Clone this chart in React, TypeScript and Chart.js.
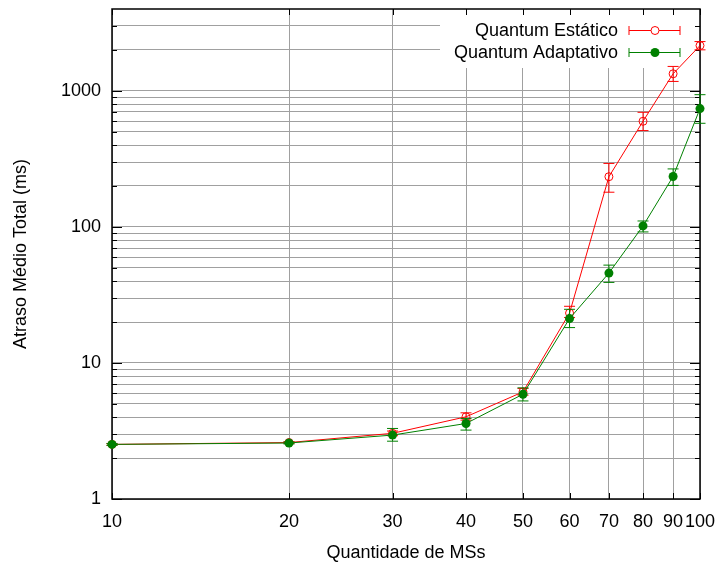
import React, { useEffect, useRef } from "react";
import { Chart, registerables } from "chart.js";

Chart.register(...registerables);

// ---- data ----
const msCounts = [10, 20, 30, 40, 50, 60, 70, 80, 90, 100];

const estaticoMean = [2.52, 2.6, 3.04, 4.02, 6.13, 23.3, 234, 598, 1336, 2154];
const estaticoLow = [2.48, 2.56, 2.92, 3.8, 5.8, 21.6, 180, 511, 1174, 2004];
const estaticoHigh = [2.56, 2.64, 3.16, 4.3, 6.5, 26.1, 293, 696, 1513, 2305];

const adaptativoMean = [2.52, 2.58, 2.95, 3.59, 5.89, 21.2, 45.8, 101.7, 235, 741];
const adaptativoLow = [2.48, 2.54, 2.66, 3.21, 5.26, 18.2, 39.1, 91.9, 202, 578];
const adaptativoHigh = [2.56, 2.62, 3.3, 3.91, 6.56, 24.8, 52.4, 110.6, 267, 938];

const xTickValues = [10, 20, 30, 40, 50, 60, 70, 80, 90, 100];
const yDecades = [1, 10, 100, 1000];
const yMantissas = [1, 2, 3, 4, 5, 6, 7, 8, 9];
const yMin = 1;
const yMax = 4000;

const seriesLabels = ["Quantum Estático", "Quantum Adaptativo"];
const xTitle = "Quantidade de MSs";
const yTitle = "Atraso Médio Total (ms)";

// ---- styles ----
const FONT = '"Liberation Sans", Arial, Helvetica, sans-serif';
const FONT_SIZE = 18;
const RED = "#ff0000";
const GREEN = "#008000";
const GRID = "#a0a0a0";

const yTickValues: number[] = [];
yDecades.forEach((d) =>
  yMantissas.forEach((m) => {
    const v = d * m;
    if (v >= yMin && v < yMax) yTickValues.push(v);
  })
);
const isMajorY = (v: number) => yDecades.includes(v);

const errorBarPlugin = {
  id: "errorBars",
  beforeDatasetDraw(chart: any, args: any) {
    const ds = chart.data.datasets[args.index];
    const low: number[] = ds.errLow;
    const high: number[] = ds.errHigh;
    if (!low || !high) return;
    const { ctx } = chart;
    const xs = chart.scales.x;
    const ys = chart.scales.y;
    ctx.save();
    ctx.strokeStyle = ds.borderColor;
    ctx.lineWidth = 1;
    msCounts.forEach((m, i) => {
      const px = xs.getPixelForValue(m);
      const pl = ys.getPixelForValue(low[i]);
      const ph = ys.getPixelForValue(high[i]);
      const cap = 5.5;
      ctx.beginPath();
      ctx.moveTo(px, pl);
      ctx.lineTo(px, ph);
      ctx.moveTo(px - cap, pl);
      ctx.lineTo(px + cap, pl);
      ctx.moveTo(px - cap, ph);
      ctx.lineTo(px + cap, ph);
      ctx.stroke();
    });
    ctx.restore();
  },
};

const framePlugin = {
  id: "frameAndKey",
  beforeDatasetsDraw(chart: any) {
    const { ctx, chartArea } = chart;
    const { left, right, top, bottom } = chartArea;
    const xs = chart.scales.x;
    const ys = chart.scales.y;
    ctx.save();
    // opaque key box
    const keyLeft = right - 260;
    const keyHeight = 59;
    ctx.fillStyle = "#ffffff";
    ctx.fillRect(keyLeft, top, right - keyLeft, keyHeight);

    // tick marks (inward, mirrored)
    ctx.strokeStyle = "#000";
    ctx.lineWidth = 1;
    ctx.beginPath();
    yTickValues.forEach((v) => {
      const py = Math.round(ys.getPixelForValue(v)) + 0.5;
      const len = isMajorY(v) ? 10 : 5;
      ctx.moveTo(left, py);
      ctx.lineTo(left + len, py);
      ctx.moveTo(right, py);
      ctx.lineTo(right - len, py);
    });
    xTickValues.forEach((v) => {
      const px = Math.round(xs.getPixelForValue(v)) + 0.5;
      ctx.moveTo(px, bottom);
      ctx.lineTo(px, bottom - 6);
      ctx.moveTo(px, top);
      ctx.lineTo(px, top + 6);
    });
    ctx.stroke();

    // border
    ctx.lineWidth = 1.5;
    ctx.strokeRect(left, top, right - left, bottom - top);

    // key entries
    ctx.font = `${FONT_SIZE}px ${FONT}`;
    ctx.textAlign = "right";
    ctx.textBaseline = "middle";
    const rows = [
      { label: seriesLabels[0], color: RED, filled: false, y: top + 21.5 },
      { label: seriesLabels[1], color: GREEN, filled: true, y: top + 43.5 },
    ];
    rows.forEach((r) => {
      ctx.fillStyle = "#000";
      ctx.fillText(r.label, right - 82, r.y + 1);
      const x0 = right - 71;
      const x1 = right - 20;
      const xm = right - 45;
      ctx.strokeStyle = r.color;
      ctx.lineWidth = 1;
      ctx.beginPath();
      ctx.moveTo(x0, r.y);
      ctx.lineTo(x1, r.y);
      ctx.moveTo(x0, r.y - 4.5);
      ctx.lineTo(x0, r.y + 4.5);
      ctx.moveTo(x1, r.y - 4.5);
      ctx.lineTo(x1, r.y + 4.5);
      ctx.stroke();
      ctx.beginPath();
      if (r.filled) {
        ctx.fillStyle = r.color;
        ctx.arc(xm, r.y, 4.5, 0, Math.PI * 2);
        ctx.fill();
      } else {
        ctx.fillStyle = "#fff";
        ctx.arc(xm, r.y, 4, 0, Math.PI * 2);
        ctx.fill();
        ctx.stroke();
      }
    });
    ctx.restore();
  },
};

const zeroPadding = (scale: any) => {
  scale.paddingLeft = 0;
  scale.paddingRight = 0;
  scale.paddingTop = 0;
  scale.paddingBottom = 0;
};

export default function App() {
  const canvasRef = useRef<HTMLCanvasElement | null>(null);

  useEffect(() => {
    const canvas = canvasRef.current;
    if (!canvas) return;
    const tickFont = { family: FONT, size: FONT_SIZE };

    const chart = new Chart(canvas, {
      type: "line",
      data: {
        datasets: [
          {
            label: seriesLabels[0],
            data: msCounts.map((x, i) => ({ x, y: estaticoMean[i] })),
            borderColor: RED,
            backgroundColor: RED,
            borderWidth: 1,
            pointRadius: 4,
            pointBorderWidth: 1,
            pointBackgroundColor: "rgba(0,0,0,0)",
            pointBorderColor: RED,
            pointStyle: "circle",
            tension: 0,
            clip: false,
            order: 1,
            errLow: estaticoLow,
            errHigh: estaticoHigh,
          } as any,
          {
            label: seriesLabels[1],
            data: msCounts.map((x, i) => ({ x, y: adaptativoMean[i] })),
            borderColor: GREEN,
            backgroundColor: GREEN,
            borderWidth: 1,
            pointRadius: 4.5,
            pointBorderWidth: 0,
            pointBackgroundColor: GREEN,
            pointBorderColor: GREEN,
            pointStyle: "circle",
            tension: 0,
            clip: false,
            order: 0,
            errLow: adaptativoLow,
            errHigh: adaptativoHigh,
          } as any,
        ],
      },
      options: {
        animation: false,
        responsive: false,
        devicePixelRatio: 1,
        layout: { padding: { top: 9, right: 21, left: 0, bottom: 0 } },
        plugins: {
          legend: { display: false },
          tooltip: { enabled: false },
        },
        scales: {
          x: {
            type: "logarithmic",
            min: 10,
            max: 100,
            afterBuildTicks: (scale: any) => {
              scale.ticks = xTickValues.map((v) => ({ value: v }));
            },
            afterFit: (scale: any) => {
              scale.height = 68;
              zeroPadding(scale);
            },
            ticks: {
              autoSkip: false,
              maxRotation: 0,
              padding: 12,
              color: "#000",
              font: tickFont,
              callback: (v: any) => String(v),
            },
            grid: { color: GRID, lineWidth: 1, drawTicks: false },
            border: { display: false },
            title: {
              display: true,
              text: xTitle,
              color: "#000",
              font: tickFont,
              padding: { top: 0, bottom: 3 },
            },
          },
          y: {
            type: "logarithmic",
            min: yMin,
            max: yMax,
            afterBuildTicks: (scale: any) => {
              scale.ticks = yTickValues.map((v) => ({ value: v }));
            },
            afterFit: (scale: any) => {
              scale.width = 112;
              zeroPadding(scale);
            },
            ticks: {
              autoSkip: false,
              padding: 11,
              color: "#000",
              font: tickFont,
              callback: (v: any) => (isMajorY(Number(v)) ? String(v) : ""),
            },
            grid: { color: GRID, lineWidth: 1, drawTicks: false },
            border: { display: false },
            title: {
              display: true,
              text: yTitle,
              color: "#000",
              font: tickFont,
              padding: { top: 10, bottom: 0 },
            },
          },
        },
      } as any,
      plugins: [framePlugin, errorBarPlugin],
    });
    return () => chart.destroy();
  }, []);

  return (
    <div style={{ position: "absolute", left: 0, top: 0, width: 721, height: 567, background: "#fff" }}>
      <canvas ref={canvasRef} width={721} height={567} style={{ display: "block", width: 721, height: 567 }} />
    </div>
  );
}
